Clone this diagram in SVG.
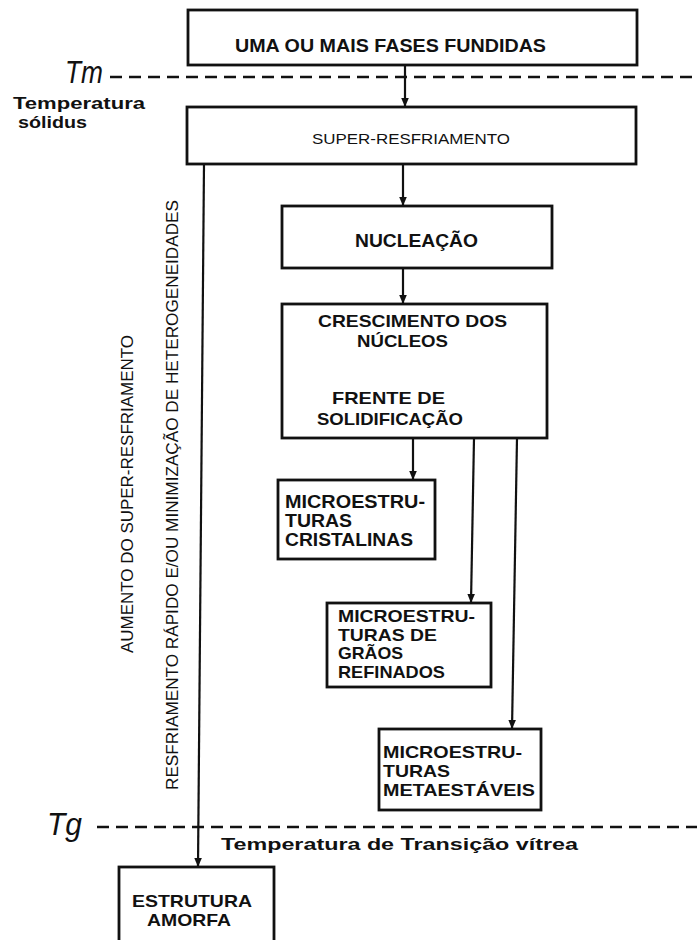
<svg xmlns="http://www.w3.org/2000/svg" width="697" height="940" viewBox="0 0 697 940">
<style>
.box{fill:#fff;stroke:#111;stroke-width:2.8}
.t{font-family:"Liberation Sans",Arial,sans-serif;fill:#111;font-weight:bold}
.n{font-family:"Liberation Sans",Arial,sans-serif;fill:#111;font-weight:normal}
.it{font-family:"Liberation Sans",Arial,sans-serif;fill:#111;font-style:italic;font-weight:normal}
.c{stroke:#111;stroke-width:2.2;fill:none;marker-end:url(#ah)}
.dash{stroke:#111;stroke-width:2.5;stroke-dasharray:12 7;fill:none}
</style>
<defs>
<marker id="ah" markerWidth="10" markerHeight="10" refX="9" refY="5" orient="auto" markerUnits="userSpaceOnUse">
<path d="M0,1.2 L9,5 L0,8.8 z" fill="#111"/>
</marker>
</defs>
<rect width="697" height="940" fill="#fff"/>

<g id="temps">
<line class="dash" x1="110" y1="77" x2="697" y2="77"/>
<text class="it" x="65" y="83" font-size="32" textLength="38" lengthAdjust="spacingAndGlyphs">Tm</text>
<text class="t" x="13" y="109" font-size="16" textLength="132" lengthAdjust="spacingAndGlyphs">Temperatura</text>
<text class="t" x="18" y="128" font-size="16" textLength="69" lengthAdjust="spacingAndGlyphs">sólidus</text>
<line class="dash" x1="97" y1="827" x2="697" y2="827"/>
<text class="it" x="47" y="835" font-size="31" textLength="35" lengthAdjust="spacingAndGlyphs">Tg</text>
<text class="t" x="221" y="850" font-size="17" textLength="357" lengthAdjust="spacingAndGlyphs">Temperatura de Transição vítrea</text>
</g>

<g id="side-labels">
<text class="n" font-size="17" transform="translate(133,653) rotate(-90)" textLength="318" lengthAdjust="spacingAndGlyphs">AUMENTO DO SUPER-RESFRIAMENTO</text>
<text class="n" font-size="17" transform="translate(178,790) rotate(-90)" textLength="590" lengthAdjust="spacingAndGlyphs">RESFRIAMENTO RÁPIDO E/OU MINIMIZAÇÃO DE HETEROGENEIDADES</text>
</g>

<g id="connectors">
<line class="c" x1="405" y1="65" x2="405" y2="107"/>
<line class="c" x1="403" y1="164" x2="403" y2="206"/>
<line class="c" x1="403" y1="268" x2="403" y2="304"/>
<line class="c" x1="413" y1="438" x2="413" y2="480"/>
<line class="c" x1="474" y1="438" x2="471" y2="603"/>
<line class="c" x1="517" y1="438" x2="512" y2="729"/>
<line class="c" x1="204" y1="164" x2="198" y2="867"/>
</g>

<g id="n-fundidas">
<rect class="box" x="188" y="10" width="449" height="55"/>
<text class="t" x="235" y="52" font-size="19" textLength="311" lengthAdjust="spacingAndGlyphs">UMA OU MAIS FASES FUNDIDAS</text>
</g>

<g id="n-super">
<rect class="box" x="187" y="107" width="449" height="57"/>
<text class="n" x="312" y="144" font-size="15" textLength="198" lengthAdjust="spacingAndGlyphs">SUPER-RESFRIAMENTO</text>
</g>

<g id="n-nucleacao">
<rect class="box" x="282" y="206" width="270" height="62"/>
<text class="t" x="355" y="247" font-size="18" textLength="123" lengthAdjust="spacingAndGlyphs">NUCLEAÇÃO</text>
</g>

<g id="n-crescimento">
<rect class="box" x="282" y="304" width="265" height="134"/>
<text class="t" x="318" y="327" font-size="17" textLength="189" lengthAdjust="spacingAndGlyphs">CRESCIMENTO DOS</text>
<text class="t" x="357" y="347" font-size="17" textLength="91" lengthAdjust="spacingAndGlyphs">NÚCLEOS</text>
<text class="t" x="332" y="404" font-size="17" textLength="113" lengthAdjust="spacingAndGlyphs">FRENTE DE</text>
<text class="t" x="317" y="425" font-size="17" textLength="146" lengthAdjust="spacingAndGlyphs">SOLIDIFICAÇÃO</text>
</g>

<g id="n-cristalinas">
<rect class="box" x="278" y="480" width="157" height="79"/>
<text class="t" x="285" y="508" font-size="18" textLength="140" lengthAdjust="spacingAndGlyphs">MICROESTRU-</text>
<text class="t" x="285" y="527" font-size="18" textLength="67" lengthAdjust="spacingAndGlyphs">TURAS</text>
<text class="t" x="285" y="546" font-size="18" textLength="128" lengthAdjust="spacingAndGlyphs">CRISTALINAS</text>
</g>

<g id="n-refinados">
<rect class="box" x="327" y="603" width="164" height="84"/>
<text class="t" x="338" y="622" font-size="17" textLength="137" lengthAdjust="spacingAndGlyphs">MICROESTRU-</text>
<text class="t" x="338" y="641" font-size="17" textLength="99" lengthAdjust="spacingAndGlyphs">TURAS DE</text>
<text class="t" x="338" y="659" font-size="17" textLength="65" lengthAdjust="spacingAndGlyphs">GRÃOS</text>
<text class="t" x="338" y="678" font-size="17" textLength="107" lengthAdjust="spacingAndGlyphs">REFINADOS</text>
</g>

<g id="n-metaestaveis">
<rect class="box" x="379" y="729" width="162" height="81"/>
<text class="t" x="383" y="758" font-size="17" textLength="139" lengthAdjust="spacingAndGlyphs">MICROESTRU-</text>
<text class="t" x="383" y="777" font-size="17" textLength="67" lengthAdjust="spacingAndGlyphs">TURAS</text>
<text class="t" x="383" y="796" font-size="17" textLength="152" lengthAdjust="spacingAndGlyphs">METAESTÁVEIS</text>
</g>

<g id="n-amorfa">
<rect class="box" x="119" y="867" width="155" height="80"/>
<text class="t" x="132" y="907" font-size="17" textLength="120" lengthAdjust="spacingAndGlyphs">ESTRUTURA</text>
<text class="t" x="147" y="926" font-size="17" textLength="84" lengthAdjust="spacingAndGlyphs">AMORFA</text>
</g>
</svg>
